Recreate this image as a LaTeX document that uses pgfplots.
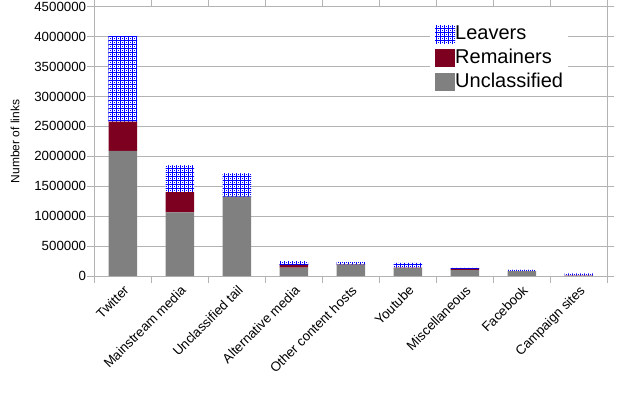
\documentclass[border=0pt]{standalone}
\usepackage{fontspec}
\setmainfont{Liberation Sans}
\usepackage{pgfplots}
\pgfplotsset{compat=1.18}
\usetikzlibrary{patterns}
\definecolor{gridgray}{HTML}{B3B3B3}
\definecolor{uncl}{HTML}{808080}
\definecolor{remain}{HTML}{7E0021}
\definecolor{leaveblue}{HTML}{0000FF}

% blue grid with a dot in each cell, like the office fill
\pgfdeclarepatternformonly{leavergrid}{\pgfqpoint{-1bp}{-1bp}}{\pgfqpoint{5bp}{5bp}}{\pgfqpoint{4bp}{4bp}}{
  \pgfsetlinewidth{1bp}
  \pgfpathmoveto{\pgfqpoint{0bp}{-1bp}}\pgfpathlineto{\pgfqpoint{0bp}{5bp}}
  \pgfpathmoveto{\pgfqpoint{-1bp}{0bp}}\pgfpathlineto{\pgfqpoint{5bp}{0bp}}
  \pgfusepath{stroke}
  \pgfpathrectangle{\pgfqpoint{1.5bp}{1.5bp}}{\pgfqpoint{1bp}{1bp}}
  \pgfusepath{fill}
}

\begin{document}
\begin{tikzpicture}
\useasboundingbox (-94.3bp,-117bp) rectangle (523.7bp,276bp);
\begin{axis}[
    scale only axis,
    width=513bp, height=269.3bp,
    xmin=-0.5, xmax=8.5,
    ymin=0, ymax=4500000,
    ybar stacked,
    bar width=28.5bp,
    xtick={0,...,8},
    xticklabels={Twitter,Mainstream media,Unclassified tail,Alternative media,Other content hosts,Youtube,Miscellaneous,Facebook,Campaign sites},
    minor xtick={-0.5,0.5,...,8.5},
    ytick={0,500000,...,4500000},
    scaled y ticks=false,
    yticklabel style={/pgf/number format/fixed,/pgf/number format/1000 sep={},
        /pgf/number format/assume math mode=true,
        font=\fontsize{13.3bp}{16bp}\selectfont, inner sep=1bp},
    xticklabel style={rotate=45, anchor=north east, inner sep=1bp,
        font=\fontsize{13.3bp}{16bp}\selectfont},
    ymajorgrids,
    grid style={gridgray, line width=1bp},
    axis line style={gridgray, line width=1bp},
    tick align=outside,
    major tick length=7bp,
    minor tick length=7bp,
    major x tick style={draw=none},
    minor x tick style={gridgray, line width=1bp},
    ytick style={gridgray, line width=1bp},
    ylabel={Number of links},
    every axis y label/.style={at={(axis description cs:0,0.5)}, xshift=-79.3bp,
        rotate=90, anchor=center, font=\fontsize{12bp}{14bp}\selectfont},
    legend image code/.code={\path[#1] (0bp,-9bp) rectangle (20bp,9bp);},
    reverse legend,
    legend cell align=left,
    legend style={at={(0.6544,0.945)}, anchor=north west, draw=none, fill=white,
        inner xsep=5bp, inner ysep=3bp,
        font=\fontsize{20bp}{24bp}\selectfont, row sep=4.7bp,
        nodes={inner sep=0pt, text height=15bp, text depth=4bp},
        /tikz/every even column/.append style={column sep=2.5bp}},
]
\addplot[fill=uncl, draw=none] coordinates {
(0,2090000) (1,1065000) (2,1325000) (3,140000) (4,190000) (5,130000) (6,100000) (7,80000) (8,3000)};
\addlegendentry{Unclassified}
\addplot[fill=remain, draw=none] coordinates {
(0,490000) (1,335000) (2,0) (3,45000) (4,5000) (5,8000) (6,20000) (7,3000) (8,2000)};
\addlegendentry{Remainers}
\addplot[fill=white, draw=none, postaction={pattern=leavergrid, pattern color=leaveblue}] coordinates {
(0,1430000) (1,450000) (2,390000) (3,65000) (4,35000) (5,80000) (6,14000) (7,20000) (8,33000)};
\addlegendentry{Leavers}
\end{axis}
\end{tikzpicture}
\end{document}
